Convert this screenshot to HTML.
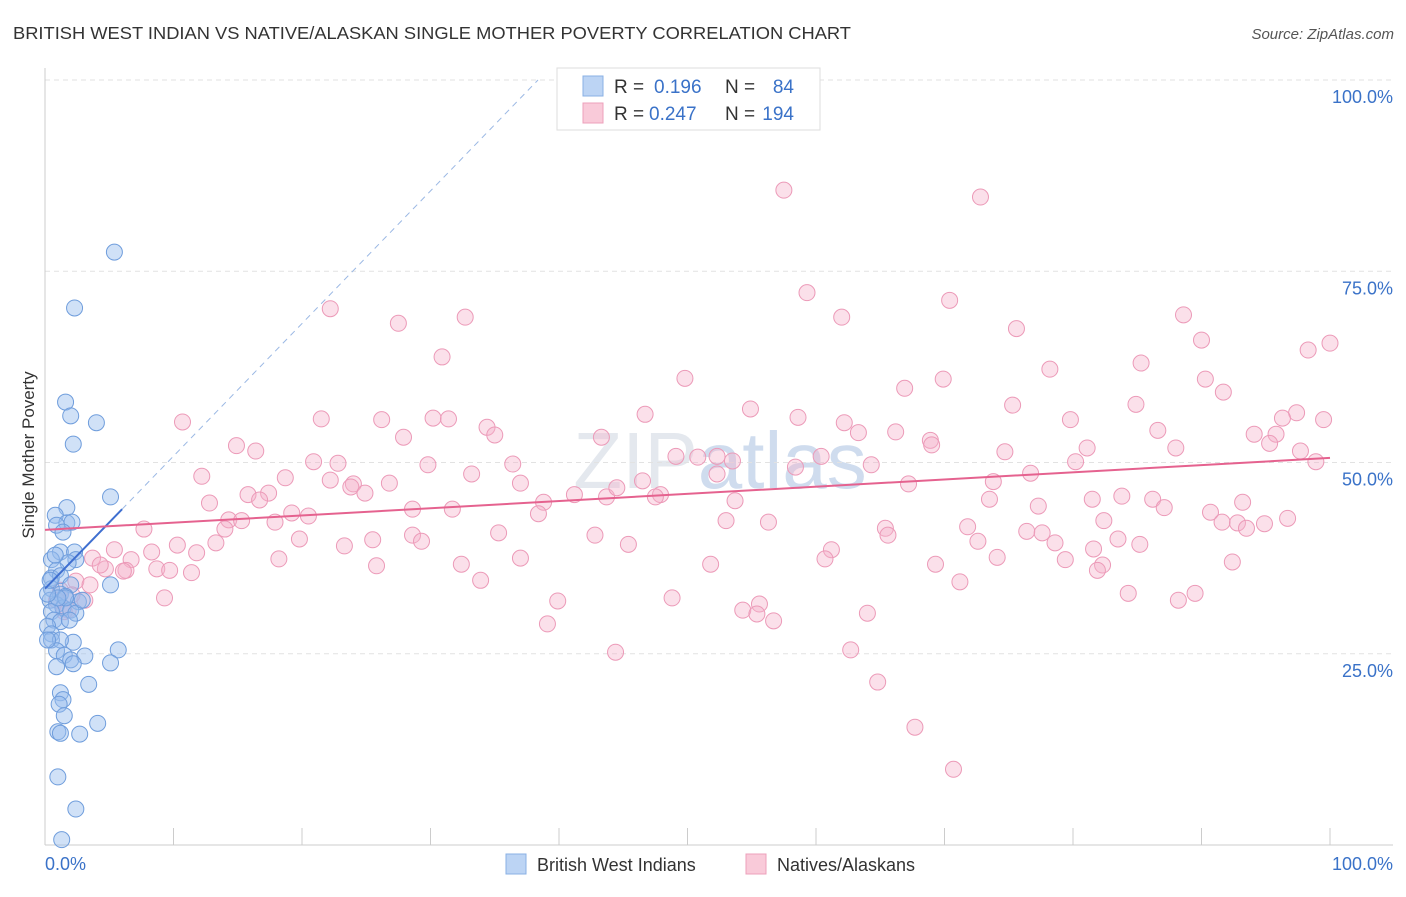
<!DOCTYPE html>
<html><head><meta charset="utf-8"><style>
body{margin:0;background:#fff;font-family:"Liberation Sans",sans-serif;}
svg text{font-family:"Liberation Sans",sans-serif;}
</style></head><body>
<svg id="chart" width="1406" height="892" xmlns="http://www.w3.org/2000/svg">
<text x="13" y="39" font-size="17.5" fill="#333" textLength="838" lengthAdjust="spacingAndGlyphs">BRITISH WEST INDIAN VS NATIVE/ALASKAN SINGLE MOTHER POVERTY CORRELATION CHART</text>
<text x="1394" y="39" font-size="15" fill="#555" text-anchor="end" font-style="italic">Source: ZipAtlas.com</text>
<text x="720" y="488" font-size="80" fill="#e4e8ee" text-anchor="middle" font-family="Liberation Serif">ZIP<tspan font-family="Liberation Sans" fill="#cfdcee">atlas</tspan></text>
<g id="grid"></g>
<g id="axes"></g>
<g id="pink"></g>
<g id="blue"></g>
<g id="trends"></g>
<text transform="translate(34,455) rotate(-90)" font-size="17" fill="#333" text-anchor="middle">Single Mother Poverty</text>
<g>
<rect x="557" y="68" width="263" height="62" fill="#fff" stroke="#ddd"/>
<rect x="583" y="76" width="20" height="20" fill="#bcd4f4" stroke="#8ab0e4"/>
<rect x="583" y="103" width="20" height="20" fill="#f9cad9" stroke="#eda0bb"/>
<text x="614" y="93" font-size="19" fill="#333">R =</text>
<text x="654" y="93" font-size="19" fill="#3a72c8">0.196</text>
<text x="725" y="93" font-size="19" fill="#333">N =</text>
<text x="794" y="93" font-size="19" fill="#3a72c8" text-anchor="end">84</text>
<text x="614" y="120" font-size="19" fill="#333">R =</text>
<text x="649" y="120" font-size="19" fill="#3a72c8">0.247</text>
<text x="725" y="120" font-size="19" fill="#333">N =</text>
<text x="794" y="120" font-size="19" fill="#3a72c8" text-anchor="end">194</text>
</g>
<g>
<rect x="506" y="854" width="20" height="20" fill="#bcd4f4" stroke="#8ab0e4"/>
<text x="537" y="871" font-size="18" fill="#333">British West Indians</text>
<rect x="746" y="854" width="20" height="20" fill="#f9cad9" stroke="#eda0bb"/>
<text x="777" y="871" font-size="18" fill="#333">Natives/Alaskans</text>
</g>
</svg>
<script>
const yTicks=[25,50,75,100];
const xTickLabels=["0.0%","100.0%"];
const blueX=[5.4,2.3,1.6,4.0,2.0,2.2,5.1,1.7,0.8,1.7,2.1,0.9,1.4,1.2,2.3,2.4,0.5,1.8,0.9,0.5,1.2,2.0,5.1,0.5,1.2,1.6,2.6,0.4,0.9,1.4,2.0,2.4,0.5,0.7,1.2,0.2,0.5,2.2,0.5,1.2,0.9,1.5,2.0,3.1,5.7,5.1,0.9,2.2,3.4,1.2,1.4,1.1,1.5,4.1,1.0,1.2,2.7,1.0,2.4,1.3,1.6,1.0,0.2,2.9,0.4,0.8,0.2,1.9];
const blueY=[77.5,70.2,57.9,55.2,56.1,52.4,45.5,44.1,43.1,42.1,42.2,41.8,40.9,38.3,38.3,37.3,37.3,36.9,35.9,34.9,35.2,34.0,34.0,33.5,32.8,32.5,31.8,32.0,31.4,31.0,30.7,30.3,30.5,29.4,29.2,28.6,27.6,26.5,26.8,26.8,25.4,24.8,24.2,24.7,25.5,23.8,23.3,23.7,21.0,19.9,19.0,18.4,16.9,15.9,14.8,14.6,14.5,8.9,4.7,0.7,32.3,32.3,32.8,32.0,34.6,37.9,26.8,29.4];
const pinkX=[57.5,72.8,59.3,70.4,22.2,32.7,27.5,62.0,88.6,75.6,90.0,98.3,100,30.9,85.3,78.2,49.8,69.9,90.3,66.9,91.7,75.3,84.9,54.9,46.7,58.6,30.2,31.4,21.5,26.2,10.7,79.8,97.4,99.5,96.3,62.2,34.4,86.6,63.3,94.1,66.2,35.0,27.9,43.3,68.9,69.0,14.9,16.4,95.8,95.3,88.0,81.1,97.7,98.9,20.9,74.7,80.2,60.4,52.3,49.1,50.8,53.5,29.8,36.4,22.8,64.3,58.4,12.2,33.2,76.7,18.7,22.2,24.0,26.8,37.0,46.5,52.3,73.8,67.2,23.8,24.9,15.8,17.4,16.7,41.2,43.7,44.5,47.9,47.5,53.7,73.5,81.5,83.8,86.2,87.1,12.8,28.6,31.7,38.8,38.4,77.3,90.7,93.2,19.2,20.5,14.3,15.3,53.0,56.3,65.4,82.4,91.6,92.8,94.9,96.7,93.5,7.7,14.0,17.9,35.3,42.8,71.8,76.4,77.6,28.6,29.3,65.6,45.4,72.6,83.5,78.6,81.6,85.2,13.3,10.3,19.8,23.3,25.5,8.3,11.8,5.4,61.2,60.7,37.0,74.1,92.4,79.4,3.7,6.7,51.8,69.3,32.4,25.8,18.2,6.3,4.7,8.7,11.4,9.7,6.1,33.9,71.2,2.4,82.3,81.9,84.3,89.5,88.2,39.9,48.8,9.3,54.3,55.6,55.4,64.0,56.7,39.1,44.4,62.7,64.8,67.7,70.7,1.2,1.8,3.1,4.3,0.9,2.1,1.5,3.5];
const pinkY=[85.6,84.7,72.2,71.2,70.1,69.0,68.2,69.0,69.3,67.5,66.0,64.7,65.6,63.8,63.0,62.2,61.0,60.9,60.9,59.7,59.2,57.5,57.6,57.0,56.3,55.9,55.8,55.7,55.7,55.6,55.3,55.6,56.5,55.6,55.8,55.2,54.6,54.2,53.9,53.7,54.0,53.6,53.3,53.3,52.9,52.3,52.2,51.5,53.7,52.5,51.9,51.9,51.5,50.1,50.1,51.4,50.1,50.8,50.8,50.8,50.7,50.2,49.7,49.8,49.9,49.7,49.4,48.2,48.5,48.6,48.0,47.7,47.2,47.3,47.3,47.6,48.5,47.5,47.2,46.8,46.0,45.8,46.0,45.1,45.8,45.5,46.7,45.8,45.5,45.0,45.2,45.2,45.6,45.2,44.1,44.7,43.9,43.9,44.8,43.3,44.3,43.5,44.8,43.4,43.0,42.5,42.4,42.4,42.2,41.4,42.4,42.2,42.1,42.0,42.7,41.4,41.3,41.3,42.2,40.8,40.5,41.6,41.0,40.8,40.5,39.7,40.5,39.3,39.7,40.0,39.5,38.7,39.3,39.5,39.2,40.0,39.1,39.9,38.3,38.2,38.6,38.6,37.4,37.5,37.6,37.0,37.3,37.5,37.3,36.7,36.7,36.7,36.5,37.4,35.9,36.1,36.1,35.6,35.9,35.8,34.6,34.4,34.5,36.6,35.9,32.9,32.9,32.0,31.9,32.3,32.3,30.7,31.5,30.2,30.3,29.3,28.9,25.2,25.5,21.3,15.4,9.9,33.3,30.7,32.0,36.6,32.0,32.7,30.5,34.0];
const blueTrend=[0,33.5,6,43.9];
const pinkTrend=[0,41.2,100,50.6];
const NS="http://www.w3.org/2000/svg";
const X0=45,X1=1330,Y0=845,Y100=80;
const xs=v=>X0+(X1-X0)*v/100;
const ys=v=>Y0-(Y0-Y100)*v/100;
function mk(tag,attrs,parent){const e=document.createElementNS(NS,tag);for(const k in attrs)e.setAttribute(k,attrs[k]);parent.appendChild(e);return e;}
const grid=document.getElementById('grid');
yTicks.forEach(t=>{
  const l=mk('line',{x1:X0,x2:1393,y1:ys(t),y2:ys(t),stroke:'#e2e2e2','stroke-dasharray':'5,4'},grid);
  
  
  const tx=mk('text',{x:1393,y:ys(t)+23,'font-size':18,fill:'#3a72c8','text-anchor':'end'},grid);
  tx.textContent=t.toFixed(1)+'%';
  
  
});
const axes=document.getElementById('axes');
mk('line',{x1:X0,x2:X0,y1:68,y2:Y0,stroke:'#ccc'},axes);
mk('line',{x1:X0,x2:1393,y1:Y0,y2:Y0,stroke:'#ccc'},axes);
for(let i=0;i<=10;i++){const t=mk('line',{x1:xs(i*10),x2:xs(i*10),y1:828,y2:Y0,stroke:'#ccc'},axes);
  
  }
[[0,'start',X0],[100,'end',1393]].forEach((d,i)=>{const t=mk('text',{x:d[2],y:870,'font-size':18,fill:'#3a72c8','text-anchor':d[1]},axes);t.textContent=xTickLabels[i];
  
  });
const pg=document.getElementById('pink');
pinkX.forEach((x,i)=>{const c=mk('circle',{cx:xs(x),cy:ys(pinkY[i]),r:8,fill:'rgba(246,178,203,0.4)',stroke:'#ec9ab8','stroke-width':1},pg);
  
  });
const bg=document.getElementById('blue');
blueX.forEach((x,i)=>{const c=mk('circle',{cx:xs(x),cy:ys(blueY[i]),r:8,fill:'rgba(150,188,238,0.45)',stroke:'#6f9ddc','stroke-width':1},bg);
  
  });
const tg=document.getElementById('trends');
const bs=(blueTrend[3]-blueTrend[1])/(blueTrend[2]-blueTrend[0]);
const xe=(100-blueTrend[1])/bs;
const dl=mk('line',{x1:xs(blueTrend[2]),y1:ys(blueTrend[3]),x2:xs(xe),y2:ys(blueTrend[1]+bs*xe),stroke:'#9bb8e4','stroke-dasharray':'6,5','stroke-width':1},tg);


const bl=mk('line',{x1:xs(blueTrend[0]),y1:ys(blueTrend[1]),x2:xs(blueTrend[2]),y2:ys(blueTrend[3]),stroke:'#3f6fd0','stroke-width':2},tg);


const pl=mk('line',{x1:xs(pinkTrend[0]),y1:ys(pinkTrend[1]),x2:xs(pinkTrend[2]),y2:ys(pinkTrend[3]),stroke:'#e5628f','stroke-width':2},tg);


</script>
</body></html>
